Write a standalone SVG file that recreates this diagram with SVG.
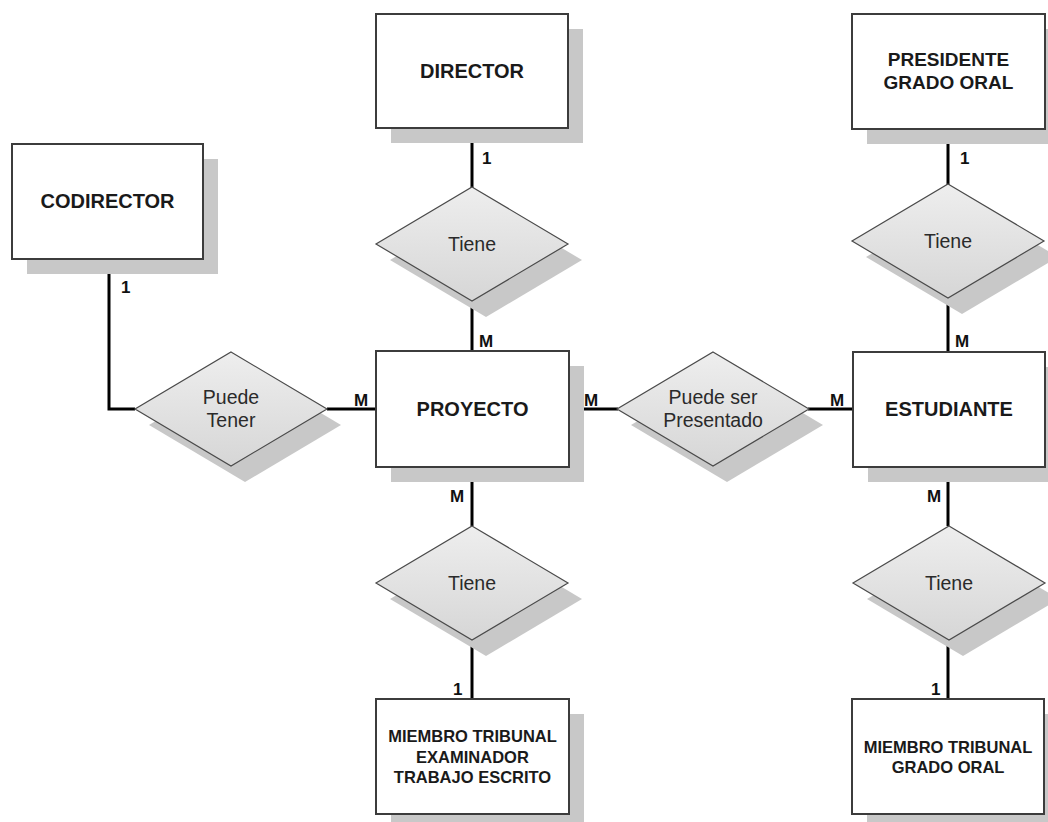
<svg xmlns="http://www.w3.org/2000/svg" width="1048" height="822" viewBox="0 0 1048 822">
  <defs>
    <linearGradient id="relFill" x1="0" y1="0" x2="0" y2="1">
      <stop offset="0" stop-color="#eeeeee"/>
      <stop offset="1" stop-color="#d6d6d6"/>
    </linearGradient>
    <!-- relationship diamond, centred on the origin -->
    <polygon id="diamond" points="0,-57 96,0 0,57 -96,0"/>
  </defs>
  <style>
    .shadow { fill: #c8c8c8; stroke: none; }
    .entity { fill: #ffffff; stroke: #3c3c3c; stroke-width: 2; }
    .rel { fill: url(#relFill); stroke: #4a4a4a; stroke-width: 1.2; }
    .ename { font-family: "Liberation Sans", Arial, sans-serif; font-weight: bold; font-size: 20px; fill: #1a1a1a; text-anchor: middle; }
    .ename.small { font-size: 16.5px; }
    .ename.mid { font-size: 19px; }
    .rname { font-family: "Liberation Sans", Arial, sans-serif; font-size: 19.5px; fill: #2a2a2a; text-anchor: middle; }
    .card { font-family: "Liberation Sans", Arial, sans-serif; font-weight: bold; font-size: 17px; fill: #111111; }
    .link { fill: none; stroke: #000000; stroke-width: 3; }
  </style>
  <rect width="1048" height="822" fill="#ffffff"/>

  <!-- connectors -->
  <g id="connectors">
    <path class="link" d="M109 259 V409 H135"/>
    <path class="link" d="M327 409 H376"/>
    <path class="link" d="M569 409 H618"/>
    <path class="link" d="M808 409 H853"/>
    <path class="link" d="M472 128 V188"/>
    <path class="link" d="M472 300 V351"/>
    <path class="link" d="M472 467 V526"/>
    <path class="link" d="M472 640 V699"/>
    <path class="link" d="M948 129 V185"/>
    <path class="link" d="M948 297 V352"/>
    <path class="link" d="M948 467 V526"/>
    <path class="link" d="M948 640 V699"/>
    <text class="card" x="121" y="293">1</text>
    <text class="card" x="482" y="164">1</text>
    <text class="card" x="479" y="347">M</text>
    <text class="card" x="354" y="406">M</text>
    <text class="card" x="584" y="406">M</text>
    <text class="card" x="830" y="406">M</text>
    <text class="card" x="450" y="502">M</text>
    <text class="card" x="453" y="695">1</text>
    <text class="card" x="960" y="164">1</text>
    <text class="card" x="955" y="347">M</text>
    <text class="card" x="927" y="502">M</text>
    <text class="card" x="931" y="695">1</text>
  </g>

  <!-- entities -->
  <g id="codirector">
    <rect class="shadow" x="27" y="159" width="191" height="115"/>
    <rect class="entity" x="12" y="144" width="191" height="115"/>
    <text class="ename" x="107.5" y="208">CODIRECTOR</text>
  </g>
  <g id="director">
    <rect class="shadow" x="391" y="29" width="192" height="114"/>
    <rect class="entity" x="376" y="14" width="192" height="114"/>
    <text class="ename" x="472" y="78">DIRECTOR</text>
  </g>
  <g id="presidente">
    <rect class="shadow" x="867" y="29" width="193" height="115"/>
    <rect class="entity" x="852" y="14" width="193" height="115"/>
    <text class="ename mid" x="948.5" y="66">PRESIDENTE</text>
    <text class="ename mid" x="948.5" y="89">GRADO ORAL</text>
  </g>
  <g id="proyecto">
    <rect class="shadow" x="391" y="366" width="193" height="116"/>
    <rect class="entity" x="376" y="351" width="193" height="116"/>
    <text class="ename" x="472.5" y="416">PROYECTO</text>
  </g>
  <g id="estudiante">
    <rect class="shadow" x="868" y="367" width="192" height="115"/>
    <rect class="entity" x="853" y="352" width="192" height="115"/>
    <text class="ename" x="949" y="416">ESTUDIANTE</text>
  </g>
  <g id="miembro-escrito">
    <rect class="shadow" x="391" y="714" width="193" height="115"/>
    <rect class="entity" x="376" y="699" width="193" height="115"/>
    <text class="ename small" x="472.5" y="742">MIEMBRO TRIBUNAL</text>
    <text class="ename small" x="472.5" y="762.5">EXAMINADOR</text>
    <text class="ename small" x="472.5" y="783">TRABAJO ESCRITO</text>
  </g>
  <g id="miembro-oral">
    <rect class="shadow" x="867" y="714" width="192" height="115"/>
    <rect class="entity" x="852" y="699" width="192" height="115"/>
    <text class="ename small" x="948" y="753">MIEMBRO TRIBUNAL</text>
    <text class="ename small" x="948" y="773">GRADO ORAL</text>
  </g>

  <!-- relationships -->
  <g id="rel-puede-tener">
    <use href="#diamond" class="shadow" x="245" y="425"/>
    <use href="#diamond" class="rel" x="231" y="409"/>
    <text class="rname" x="231" y="404">Puede</text>
    <text class="rname" x="231" y="427">Tener</text>
  </g>
  <g id="rel-presentado">
    <use href="#diamond" class="shadow" x="727" y="425"/>
    <use href="#diamond" class="rel" x="713" y="409"/>
    <text class="rname" x="713" y="404">Puede ser</text>
    <text class="rname" x="713" y="427">Presentado</text>
  </g>
  <g id="rel-tiene-director">
    <use href="#diamond" class="shadow" x="486" y="260"/>
    <use href="#diamond" class="rel" x="472" y="244"/>
    <text class="rname" x="472" y="251">Tiene</text>
  </g>
  <g id="rel-tiene-presidente">
    <use href="#diamond" class="shadow" x="962" y="257"/>
    <use href="#diamond" class="rel" x="948" y="241"/>
    <text class="rname" x="948" y="248">Tiene</text>
  </g>
  <g id="rel-tiene-escrito">
    <use href="#diamond" class="shadow" x="486" y="599"/>
    <use href="#diamond" class="rel" x="472" y="583"/>
    <text class="rname" x="472" y="590">Tiene</text>
  </g>
  <g id="rel-tiene-oral">
    <use href="#diamond" class="shadow" x="963" y="599"/>
    <use href="#diamond" class="rel" x="949" y="583"/>
    <text class="rname" x="949" y="590">Tiene</text>
  </g>
</svg>
